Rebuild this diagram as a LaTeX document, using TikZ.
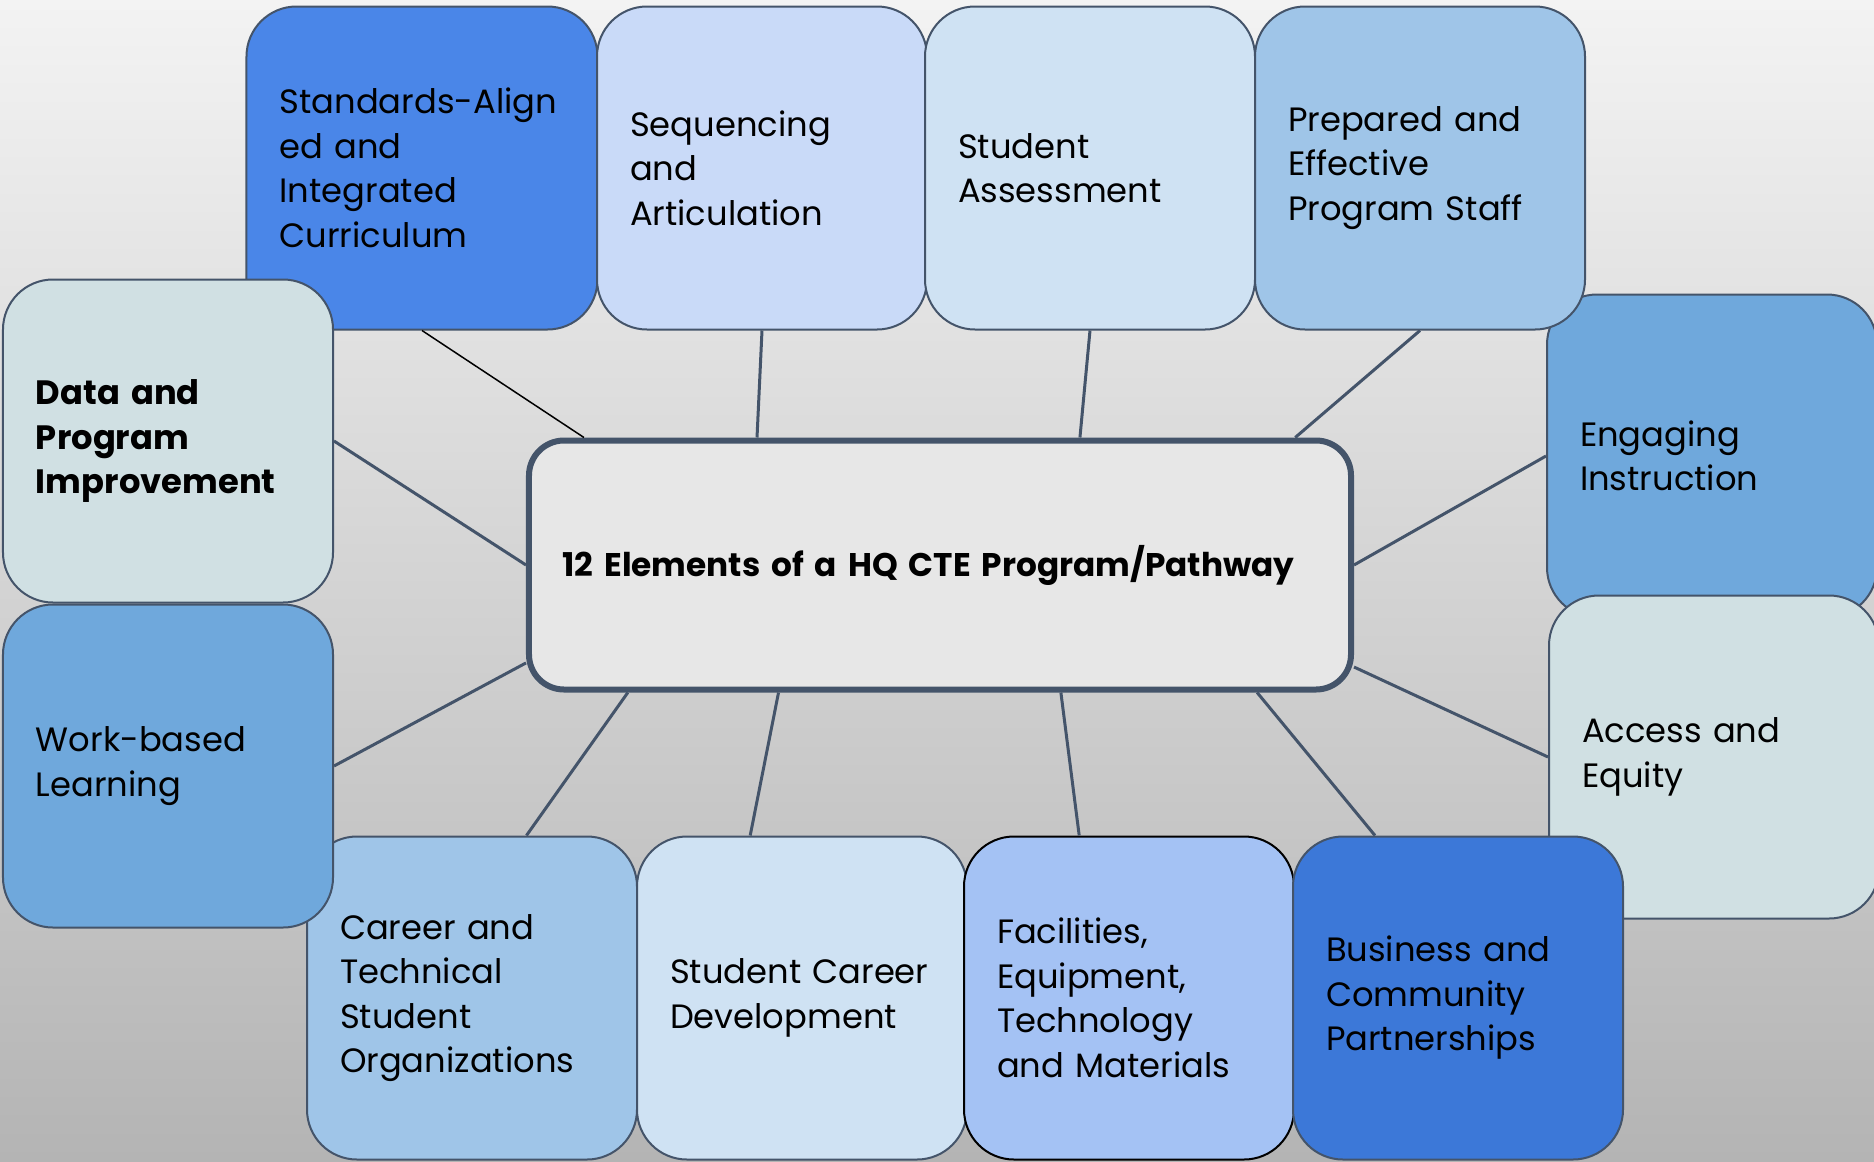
\documentclass[tikz,border=0pt]{standalone}
\usepackage{fontspec}
\setmainfont{Poppins}
\usetikzlibrary{calc, positioning}

\definecolor{edgeslate}{HTML}{44546A}
\definecolor{hubfill}{HTML}{E7E7E7}
\definecolor{bgtop}{HTML}{F3F3F3}
\definecolor{bgbottom}{HTML}{B4B4B4}
\definecolor{bluestrong}{HTML}{4A86E8}
\definecolor{bluedeep}{HTML}{3C78D8}
\definecolor{bluemid}{HTML}{6FA8DC}
\definecolor{bluesoft}{HTML}{9FC5E8}
\definecolor{bluepale}{HTML}{CFE2F3}
\definecolor{bluelav}{HTML}{C9DAF8}
\definecolor{bluecorn}{HTML}{A4C2F4}
\definecolor{slatepale}{HTML}{D0E0E3}

\tikzset{
  elem/.style={draw=edgeslate, line width=0.8pt, rounded corners=20pt,
    text width=105.6pt, inner xsep=13.2pt, minimum height=129.2pt,
    align=left, font=\fontsize{13.5}{17.8}\selectfont},
  hub/.style={draw=edgeslate, line width=2.4pt, fill=hubfill, rounded corners=14pt,
    minimum width=328.8pt, minimum height=99.6pt, text width=302pt, align=left,
    font=\fontsize{13.1}{17.8}\selectfont\bfseries},
  link/.style={draw=edgeslate, line width=1.2pt}
}

\begin{document}
\begin{tikzpicture}[x=0.4pt, y=-0.4pt]

        \useasboundingbox (0,0) rectangle (1874,1161);
        \fill[top color=bgtop, bottom color=bgbottom] (0,0) rectangle (1874,1161);

        % Top row
        \node[elem, fill=bluestrong, text width=114pt] (std) at (422,168) {Standards-Align\\ed and\\Integrated\\Curriculum};
        \node[elem, fill=bluelav] (seq) at (762,168) {Sequencing\\and\\Articulation};
        \node[elem, fill=bluepale] (assess) at (1090,168) {Student\\Assessment};

        % Right column
        \node[elem, fill=bluemid] (engage) at (1712,456) {Engaging\\Instruction};
        \node[elem, fill=bluesoft] (staff) at (1420,168) {Prepared and\\Effective\\Program Staff};

        % Left column
        \node[elem, fill=slatepale, font=\fontsize{13.5}{17.8}\selectfont\bfseries] (data) at (168,441) {Data and\\Program\\Improvement};
        \node[elem, fill=bluesoft] (ctso) at (472,998) {Career and\\Technical\\Student\\Organizations};
        \node[elem, fill=bluemid] (wbl) at (168,766) {Work-based\\Learning};

        % Bottom row
        \node[elem, fill=bluepale] (career) at (802,998) {Student Career\\Development};
        \node[elem, fill=bluecorn, draw=black] (facil) at (1129,998) {Facilities,\\Equipment,\\Technology\\and Materials};
        \node[elem, fill=slatepale] (access) at (1714,757) {Access and\\Equity};
        \node[elem, fill=bluedeep] (partner) at (1458,998) {Business and\\Community\\Partnerships};

        % Center
        \node[hub] (hub) at (940,565) {12 Elements of a HQ CTE Program/Pathway};

        % Spokes
        \draw[black, line width=0.6pt] (std.south) -- ($(hub.north west)!0.07!(hub.north east)$);
        \draw[link] (seq.south) -- ($(hub.north west)!0.279!(hub.north east)$);
        \draw[link] (assess.south) -- ($(hub.north west)!0.669!(hub.north east)$);
        \draw[link] (staff.south) -- ($(hub.north west)!0.929!(hub.north east)$);
        \draw[link] (data.east) -- (hub.west);
        \draw[link] (engage.west) -- (hub.east);
        \draw[link] (wbl.east) -- ($(hub.north west)!0.884!(hub.south west)$);
        \draw[link] (access.west) -- ($(hub.north east)!0.9!(hub.south east)$);
        \draw[link] ($(hub.south west)!0.123!(hub.south east)$) -- ($(ctso.north west)!0.664!(ctso.north east)$);
        \draw[link] ($(hub.south west)!0.305!(hub.south east)$) -- ($(career.north west)!0.344!(career.north east)$);
        \draw[link] ($(hub.south west)!0.646!(hub.south east)$) -- ($(facil.north west)!0.35!(facil.north east)$);
        \draw[link] ($(hub.south west)!0.883!(hub.south east)$) -- ($(partner.north west)!0.25!(partner.north east)$);

    \end{tikzpicture}
\end{document}
